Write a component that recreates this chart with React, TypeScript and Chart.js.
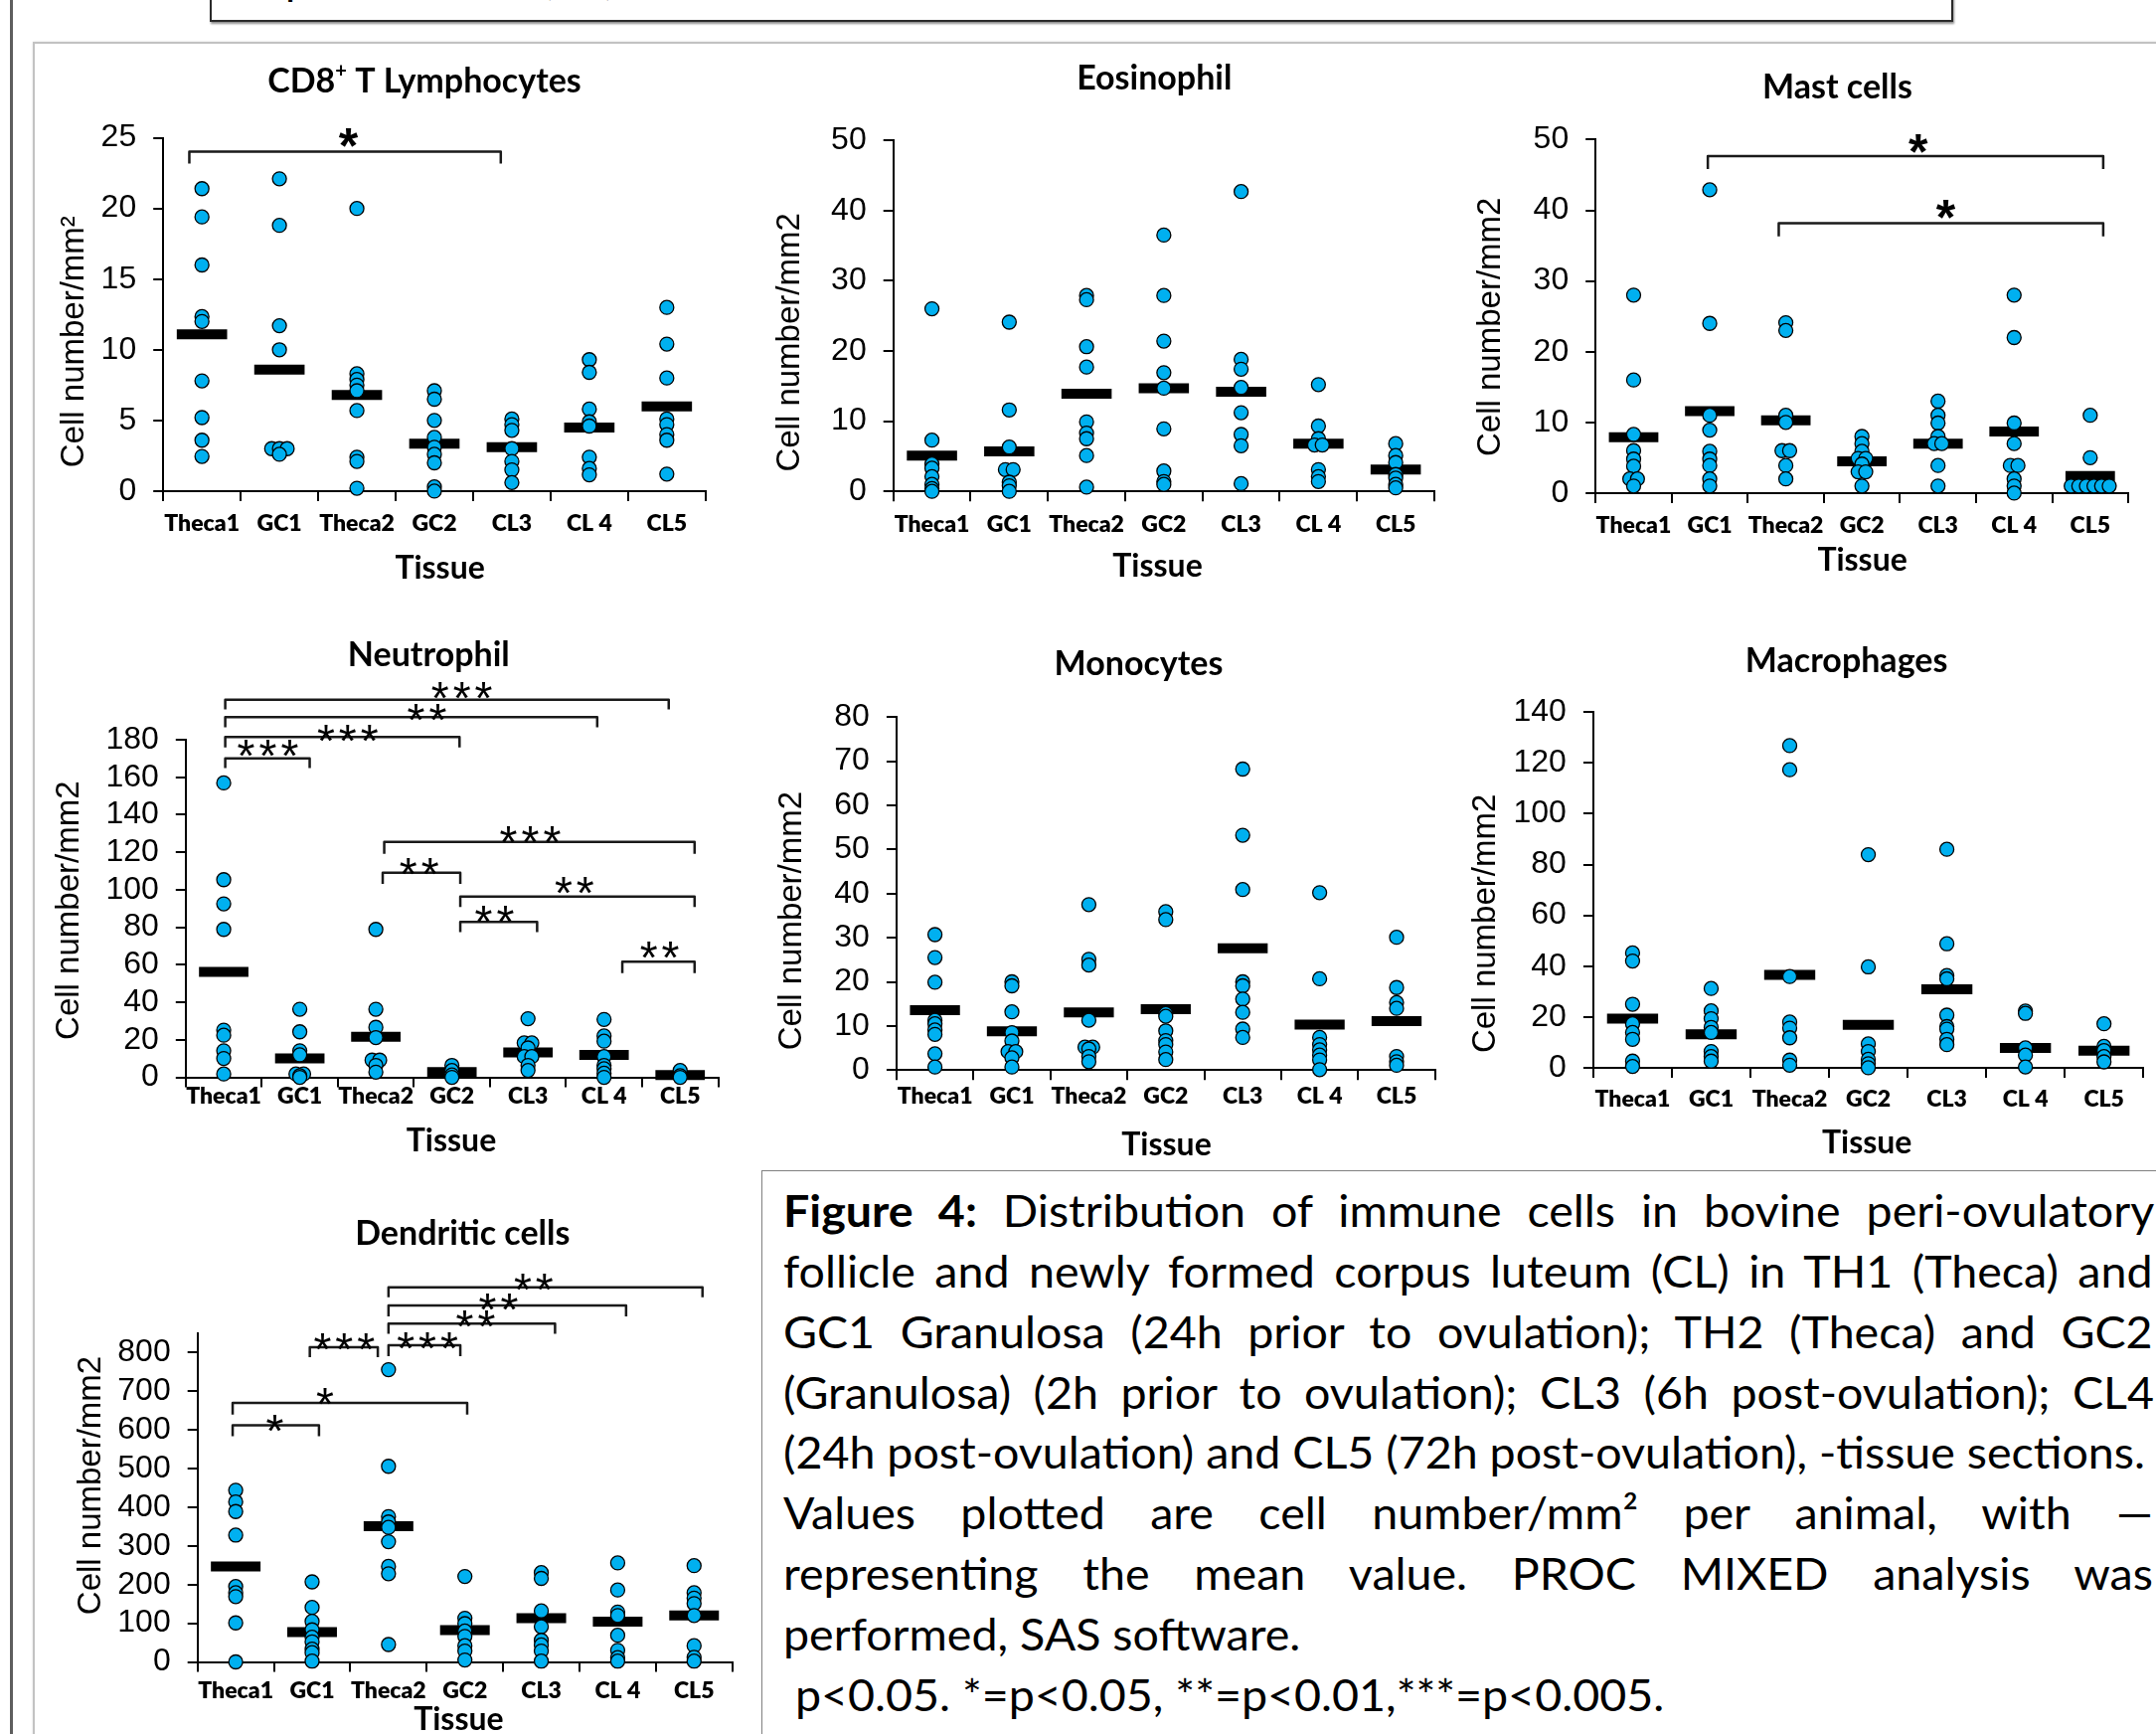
import React, { useEffect, useRef, useMemo } from 'react';
import { Chart, registerables } from 'chart.js';

Chart.register(...registerables);

// ---------------- DATA ----------------
const CATEGORIES = ['Theca1', 'GC1', 'Theca2', 'GC2', 'CL3', 'CL 4', 'CL5'];

// CD8+ T Lymphocytes
const CD8_VALUES = [
  [21.4, 19.4, 16.0, 12.35, 12.0, 7.8, 5.2, 3.6, 2.45],
  [22.1, 18.8, 11.7, 10.0, 3.0, 3.0, 3.0, 2.6],
  [20.0, 8.3, 7.9, 7.5, 7.1, 5.7, 2.4, 2.1, 0.2],
  [7.1, 6.5, 5.0, 3.8, 3.1, 2.6, 2.0, 0.3, 0.0],
  [5.1, 4.7, 4.3, 3.0, 2.1, 1.5, 0.6],
  [9.3, 8.4, 5.8, 4.9, 4.6, 2.4, 1.6, 1.15],
  [13.0, 10.4, 8.0, 5.1, 4.7, 4.0, 3.6, 1.2],
];
const CD8_MEANS = [11.1, 8.6, 6.8, 3.35, 3.1, 4.5, 6.0];
const CD8_BRACKETS = [
  { from: 0.337, to: 4.357, top: 24.02, end: 23.17, stars: '*', sx: 2.39, sy: 25.25, bold: true },
];

// Eosinophil
const EOS_VALUES = [
  [26.0, 7.3, 3.9, 3.3, 2.1, 1.0, 0.4, 0.0],
  [24.1, 11.6, 6.3, 3.1, 3.1, 1.3, 0.8, 0.0],
  [27.9, 27.3, 20.6, 17.7, 9.9, 8.3, 7.5, 5.1, 0.6],
  [36.5, 27.9, 21.4, 16.9, 14.7, 8.9, 2.9, 1.4, 1.0],
  [42.7, 18.8, 17.4, 14.8, 11.2, 8.1, 6.5, 1.1],
  [15.2, 9.3, 7.5, 6.6, 6.6, 3.1, 2.1, 1.4],
  [6.8, 5.1, 4.1, 2.4, 1.9, 1.0, 0.5],
];
const EOS_MEANS = [5.1, 5.7, 13.9, 14.7, 14.2, 6.8, 3.1];
const EOS_BRACKETS = [];

// Mast cells
const MAST_VALUES = [
  [28.0, 16.0, 8.3, 6.0, 4.8, 3.8, 2.0, 2.0, 1.0],
  [42.9, 24.0, 11.0, 8.9, 5.9, 4.8, 3.9, 2.0, 1.0],
  [24.1, 23.0, 11.0, 10.0, 6.0, 6.0, 3.9, 2.0],
  [8.0, 7.0, 5.9, 4.9, 4.9, 4.1, 3.0, 3.0, 1.0],
  [13.0, 11.0, 9.9, 8.0, 7.0, 7.0, 3.9, 1.0],
  [28.0, 22.0, 9.9, 7.0, 3.9, 3.9, 2.0, 1.0, 0.0],
  [11.0, 5.0, 1.0, 1.0, 1.0, 1.0, 1.0, 1.0],
];
const MAST_MEANS = [7.9, 11.6, 10.3, 4.5, 7.0, 8.7, 2.4];
const MAST_BRACKETS = [
  { from: 1.475, to: 6.671, top: 47.65, end: 45.85, stars: '*', sx: 4.24, sy: 49.9, bold: true },
  { from: 2.407, to: 6.671, top: 38.17, end: 36.31, stars: '*', sx: 4.6, sy: 40.6, bold: true },
];

// Neutrophil
const NEUT_VALUES = [
  [157, 105.4, 92.5, 78.9, 25.2, 22.5, 14.2, 10.1, 1.8],
  [36.3, 24.3, 14.2, 12.0, 1.8, 1.8, 0.9, 0],
  [78.9, 36.3, 26.7, 21.2, 9.2, 9.2, 6.4, 2.8],
  [6.4, 3.7, 1.3, 0],
  [31.3, 18.4, 18.4, 15.7, 11.1, 11.1, 6.4, 3.7],
  [30.9, 22.1, 19.3, 11.1, 6.4, 4.6, 2.2, 0],
  [3.7, 0.9, 0],
];
const NEUT_MEANS = [56.2, 10.1, 21.6, 2.8, 13.3, 12.0, 1.3];
const NEUT_BRACKETS = [
  { from: 0.52, to: 6.35, top: 201.4, end: 196.2, stars: '***', sx: 3.63, sy: 207.6 },
  { from: 0.52, to: 5.41, top: 192.0, end: 186.6, stars: '**', sx: 3.17, sy: 196.2 },
  { from: 0.52, to: 3.6, top: 181.5, end: 175.9, stars: '***', sx: 2.13, sy: 185.2 },
  { from: 0.52, to: 1.63, top: 170.0, end: 164.9, stars: '***', sx: 1.08, sy: 176.9 },
  { from: 2.61, to: 6.69, top: 125.6, end: 119.2, stars: '***', sx: 4.53, sy: 130.8 },
  { from: 2.59, to: 3.61, top: 109.1, end: 103.2, stars: '**', sx: 3.07, sy: 114.2 },
  { from: 3.61, to: 6.69, top: 96.4, end: 90.8, stars: '**', sx: 5.11, sy: 104.1 },
  { from: 3.61, to: 4.62, top: 82.9, end: 77.4, stars: '**', sx: 4.06, sy: 88.8 },
  { from: 5.74, to: 6.69, top: 61.7, end: 55.6, stars: '**', sx: 6.23, sy: 69.5 },
];

// Monocytes
const MONO_VALUES = [
  [30.7, 25.5, 19.9, 11.3, 10.5, 9.1, 8.1, 3.7, 0.7],
  [20.0, 19.1, 13.2, 8.5, 6.6, 4.2, 4.2, 2.8, 0.7],
  [37.5, 25.1, 23.8, 11.3, 5.2, 5.2, 4.8, 3.1, 1.9],
  [35.9, 34.1, 12.8, 12.2, 8.9, 6.7, 5.8, 4.1, 2.4],
  [68.2, 53.2, 40.9, 20.0, 19.1, 16.1, 13.1, 9.3, 7.4],
  [40.2, 20.7, 7.4, 5.8, 4.6, 3.4, 2.3, 0.1],
  [30.1, 18.7, 15.3, 14.0, 3.1, 1.9, 1.1],
];
const MONO_MEANS = [13.6, 8.8, 13.1, 13.8, 27.6, 10.3, 11.1];
const MONO_BRACKETS = [];

// Macrophages
const MACRO_VALUES = [
  [45.2, 42.0, 25.0, 17.3, 13.9, 11.2, 2.6, 0.5],
  [31.2, 22.4, 19.3, 15.9, 13.9, 6.4, 4.4, 2.6],
  [126.8, 117.3, 35.9, 18.0, 15.6, 11.8, 3.0, 1.0],
  [83.9, 39.7, 9.4, 6.4, 3.3, 1.6, 0],
  [86.0, 48.8, 36.3, 35.0, 20.7, 16.2, 15.2, 11.2, 9.1],
  [22.3, 21.4, 7.8, 5.0, 0.3],
  [17.3, 8.4, 6.8, 4.4, 2.3],
];
const MACRO_MEANS = [19.3, 13.2, 36.6, 16.9, 30.9, 7.8, 6.7];
const MACRO_BRACKETS = [];

// Dendritic cells
const DEND_VALUES = [
  [444, 414, 389, 328, 195, 179, 169, 101, 0],
  [207, 141, 105, 83, 64, 52, 33, 24, 2],
  [756, 506, 376, 362, 348, 311, 247, 228, 45],
  [221, 113, 99, 80, 66, 42, 28, 5],
  [231, 216, 132, 91, 56, 44, 28, 2],
  [256, 186, 129, 120, 69, 30, 11, 2],
  [249, 179, 165, 151, 120, 42, 12, 2],
];
const DEND_MEANS = [247, 77, 351, 82, 113, 104, 120];
const DEND_BRACKETS = [
  { from: 2.5, to: 6.61, top: 969, end: 943, stars: '**', sx: 4.4, sy: 990 },
  { from: 2.5, to: 5.61, top: 922, end: 894, stars: '**', sx: 3.94, sy: 938 },
  { from: 2.5, to: 4.68, top: 875, end: 849, stars: '**', sx: 3.64, sy: 894 },
  { from: 2.5, to: 3.44, top: 819, end: 791, stars: '***', sx: 3.01, sy: 838 },
  { from: 1.47, to: 2.36, top: 814, end: 788, stars: '***', sx: 1.92, sy: 836 },
  { from: 0.46, to: 3.53, top: 670, end: 640, stars: '*', sx: 1.67, sy: 694 },
  { from: 0.46, to: 1.59, top: 612, end: 584, stars: '*', sx: 1.01, sy: 626 },
];

const CAPTION_LINES = [
  { lead: 'Figure 4:', text: ' Distribution of immune cells in bovine peri-ovulatory', justify: true },
  { lead: '', text: 'follicle and newly formed corpus luteum (CL) in TH1 (Theca) and', justify: true },
  { lead: '', text: 'GC1 Granulosa (24h prior to ovulation); TH2 (Theca) and GC2', justify: true },
  { lead: '', text: '(Granulosa) (2h prior to ovulation); CL3 (6h post-ovulation); CL4', justify: true },
  { lead: '', text: '(24h post-ovulation) and CL5 (72h post-ovulation), -tissue sections.', justify: false },
  { lead: '', text: 'Values plotted are cell number/mm\u00B2 per animal, with \u2014', justify: true },
  { lead: '', text: 'representing the mean value. PROC MIXED analysis was', justify: true },
  { lead: '', text: 'performed, SAS software.', justify: false },
  { lead: '', text: ' p<0.05. *=p<0.05, **=p<0.01,***=p<0.005.', justify: false },
];

// ---------------- STYLE / LAYOUT ----------------
const FONT_CAL = 'Lato, "Open Sans", sans-serif';
const FONT_ARIAL = '"Liberation Sans", Arial, sans-serif';
const DOT_COLOR = '#00B0F0';

type Bracket = { from: number; to: number; top: number; end: number; stars: string; sx: number; sy: number; bold?: boolean };
type Seg = { text: string; sup?: boolean };
type PanelSpec = {
  key: string;
  title: Seg[];
  yTitle: string;
  values: number[][];
  means: number[];
  brackets: Bracket[];
  yMax: number;
  yStep: number;
  canvas: { x: number; y: number; w: number; h: number };
  area: { l: number; t: number; r: number; b: number };
  titlePos: [number, number];
  tissuePos: [number, number];
  yTitlePos: [number, number];
  labelY: number;
};

const PANELS: PanelSpec[] = [
  {
    key: 'cd8', title: [{ text: 'CD8' }, { text: '+', sup: true }, { text: ' T Lymphocytes' }], yTitle: 'Cell number/mm\u00B2',
    values: CD8_VALUES, means: CD8_MEANS, brackets: CD8_BRACKETS, yMax: 25, yStep: 5,
    canvas: { x: 36, y: 44, w: 709, h: 556 }, area: { l: 164.2, t: 138.6, r: 709.8, b: 493.9 },
    titlePos: [427, 82], tissuePos: [442.6, 571.4], yTitlePos: [75, 343.7], labelY: 526.2,
  },
  {
    key: 'eos', title: [{ text: 'Eosinophil' }], yTitle: 'Cell number/mm2',
    values: EOS_VALUES, means: EOS_MEANS, brackets: EOS_BRACKETS, yMax: 50, yStep: 10,
    canvas: { x: 745, y: 44, w: 707, h: 556 }, area: { l: 898.7, t: 141.1, r: 1443.0, b: 494.2 },
    titlePos: [1161.3, 79.5], tissuePos: [1164.5, 569.6], yTitlePos: [794.5, 344.4], labelY: 528,
  },
  {
    key: 'mast', title: [{ text: 'Mast cells' }], yTitle: 'Cell number/mm2',
    values: MAST_VALUES, means: MAST_MEANS, brackets: MAST_BRACKETS, yMax: 50, yStep: 10,
    canvas: { x: 1452, y: 44, w: 717, h: 556 }, area: { l: 1605.2, t: 140.4, r: 2141.1, b: 495.9 },
    titlePos: [1848.5, 88.2], tissuePos: [1873.6, 563.7], yTitlePos: [1500, 328.8], labelY: 529,
  },
  {
    key: 'neut', title: [{ text: 'Neutrophil' }], yTitle: 'Cell number/mm2',
    values: NEUT_VALUES, means: NEUT_MEANS, brackets: NEUT_BRACKETS, yMax: 180, yStep: 20,
    canvas: { x: 36, y: 604, w: 709, h: 573 }, area: { l: 186.8, t: 744.0, r: 722.5, b: 1083.6 },
    titlePos: [431.3, 659.5], tissuePos: [454, 1147.9], yTitlePos: [70.4, 915.7], labelY: 1102.7,
  },
  {
    key: 'mono', title: [{ text: 'Monocytes' }], yTitle: 'Cell number/mm2',
    values: MONO_VALUES, means: MONO_MEANS, brackets: MONO_BRACKETS, yMax: 80, yStep: 10,
    canvas: { x: 745, y: 604, w: 707, h: 573 }, area: { l: 901.9, t: 721.1, r: 1447.5, b: 1076.3 },
    titlePos: [1145.5, 668.2], tissuePos: [1173.5, 1151.4], yTitlePos: [796.8, 926.1], labelY: 1102.7,
  },
  {
    key: 'macro', title: [{ text: 'Macrophages' }], yTitle: 'Cell number/mm2',
    values: MACRO_VALUES, means: MACRO_MEANS, brackets: MACRO_BRACKETS, yMax: 140, yStep: 20,
    canvas: { x: 1452, y: 604, w: 717, h: 573 }, area: { l: 1602.9, t: 716.2, r: 2156.2, b: 1073.9 },
    titlePos: [1857.6, 664.8], tissuePos: [1878.2, 1149.6], yTitlePos: [1495.4, 928.9], labelY: 1105.5,
  },
  {
    key: 'dend', title: [{ text: 'Dendritic cells' }], yTitle: 'Cell number/mm2',
    values: DEND_VALUES, means: DEND_MEANS, brackets: DEND_BRACKETS, yMax: 850, yStep: 100,
    canvas: { x: 36, y: 1180, w: 728, h: 564 }, area: { l: 198.7, t: 1341.0, r: 736.7, b: 1671.5 },
    titlePos: [465.3, 1241.4], tissuePos: [461.4, 1730.1], yTitlePos: [92.1, 1494], labelY: 1700.8,
  },
];

function toPoints(values: number[][]) {
  const pts: { x: number; y: number }[] = [];
  values.forEach((vals, ci) => {
    const counts = new Map<number, number>();
    vals.forEach((v) => counts.set(v, (counts.get(v) || 0) + 1));
    const seen = new Map<number, number>();
    vals.forEach((v) => {
      const n = counts.get(v) || 1;
      const k = seen.get(v) || 0;
      seen.set(v, k + 1);
      pts.push({ x: ci + 0.5 + (k - (n - 1) / 2) * 0.1, y: v });
    });
  });
  return pts;
}

function drawSegments(ctx: CanvasRenderingContext2D, segs: Seg[], cx: number, cy: number, size: number) {
  const fontFor = (s: Seg) => `bold ${s.sup ? Math.round(size * 0.6) : size}px ${FONT_CAL}`;
  let total = 0;
  const widths = segs.map((s) => {
    ctx.font = fontFor(s);
    const w = ctx.measureText(s.text).width;
    total += w;
    return w;
  });
  let x = cx - total / 2;
  ctx.textAlign = 'left';
  ctx.textBaseline = 'middle';
  segs.forEach((s, i) => {
    ctx.font = fontFor(s);
    ctx.fillText(s.text, x, s.sup ? cy - size * 0.3 : cy);
    x += widths[i];
  });
}

function ChartPanel({ spec }: { spec: PanelSpec }) {
  const ref = useRef<HTMLCanvasElement>(null);
  useEffect(() => {
    const cv = spec.canvas;
    const area = spec.area;
    const xH = cv.y + cv.h - area.b;
    const yW = area.l - cv.x;
    const labelSize = 23;
    const tickLen = 10;
    const xPad = spec.labelY - area.b - tickLen - (labelSize * 1.2) / 2;

    const overlay = {
      id: 'overlay' + spec.key,
      afterDraw(chart: any) {
        const ctx: CanvasRenderingContext2D = chart.ctx;
        const xs = chart.scales.x;
        const ys = chart.scales.y;
        const px = (v: number) => v - cv.x;
        const py = (v: number) => v - cv.y;
        ctx.save();
        ctx.fillStyle = '#000';
        drawSegments(ctx, spec.title, px(spec.titlePos[0]), py(spec.titlePos[1]), 34);

        ctx.font = `bold 32px ${FONT_CAL}`;
        ctx.textAlign = 'center';
        ctx.textBaseline = 'middle';
        ctx.fillText('Tissue', px(spec.tissuePos[0]), py(spec.tissuePos[1]));

        ctx.save();
        ctx.translate(px(spec.yTitlePos[0]), py(spec.yTitlePos[1]));
        ctx.rotate(-Math.PI / 2);
        ctx.font = `33px ${FONT_ARIAL}`;
        ctx.textAlign = 'center';
        ctx.textBaseline = 'middle';
        ctx.fillText(spec.yTitle, 0, 0);
        ctx.restore();

        ctx.strokeStyle = '#1a1a1a';
        ctx.lineWidth = 2.5;
        ctx.lineJoin = 'round';
        spec.brackets.forEach((b) => {
          const x0 = xs.getPixelForValue(b.from);
          const x1 = xs.getPixelForValue(b.to);
          const yt = ys.getPixelForValue(b.top);
          const ye = ys.getPixelForValue(b.end);
          ctx.beginPath();
          ctx.moveTo(x0, ye);
          ctx.lineTo(x0, yt);
          ctx.lineTo(x1, yt);
          ctx.lineTo(x1, ye);
          ctx.stroke();
          const fs = b.bold ? 50 : 46;
          ctx.font = `${b.bold ? 'bold ' : ''}${fs}px ${FONT_ARIAL}`;
          (ctx as any).letterSpacing = '4px';
          ctx.textAlign = 'center';
          ctx.textBaseline = 'alphabetic';
          ctx.fillText(b.stars, xs.getPixelForValue(b.sx) + 2, ys.getPixelForValue(b.sy) + fs * 0.575);
          (ctx as any).letterSpacing = '0px';
        });
        ctx.restore();
      },
    };

    const chart = new Chart(ref.current as HTMLCanvasElement, {
      type: 'scatter',
      data: {
        datasets: [
          {
            data: toPoints(spec.values),
            order: 0,
            pointRadius: 7,
            pointBackgroundColor: DOT_COLOR,
            pointBorderColor: '#000',
            pointBorderWidth: 1.3,
            clip: false,
          } as any,
          {
            data: spec.means.map((m, i) => ({ x: i + 0.5, y: m })),
            order: 1,
            pointStyle: 'line',
            pointRadius: (c: any) => {
              const s = c.chart.scales.x;
              return Math.abs(s.getPixelForValue(0.65) - s.getPixelForValue(0)) / 2;
            },
            pointBorderColor: '#000',
            pointBorderWidth: 10,
            clip: false,
          } as any,
        ],
      },
      options: {
        responsive: false,
        animation: false,
        events: [],
        layout: { padding: { top: area.t - cv.y, right: cv.x + cv.w - area.r, left: 0, bottom: 0 } },
        plugins: { legend: { display: false }, tooltip: { enabled: false }, title: { display: false } },
        scales: {
          x: {
            type: 'linear',
            min: 0,
            max: 7,
            afterBuildTicks: (s: any) => {
              s.ticks = CATEGORIES.map((_, i) => ({ value: i + 0.5 }));
            },
            afterFit: (s: any) => {
              s.height = xH;
            },
            ticks: {
              callback: (v: any) => CATEGORIES[Math.floor(Number(v))],
              font: { family: FONT_CAL, size: labelSize, weight: '800' },
              color: '#000',
              padding: xPad,
              autoSkip: false,
              maxRotation: 0,
              minRotation: 0,
            },
            grid: { offset: true, drawOnChartArea: false, drawTicks: true, tickLength: tickLen, color: '#000', lineWidth: 2 },
            border: { display: true, color: '#000', width: 2 },
          },
          y: {
            type: 'linear',
            min: 0,
            max: spec.yMax,
            afterFit: (s: any) => {
              s.width = yW;
            },
            ticks: {
              stepSize: spec.yStep,
              includeBounds: false,
              font: { family: FONT_ARIAL, size: 32 },
              color: '#000',
              padding: 17,
              autoSkip: false,
            },
            grid: { drawOnChartArea: false, drawTicks: true, tickLength: tickLen, color: '#000', lineWidth: 2 },
            border: { display: true, color: '#000', width: 2 },
          },
        },
      } as any,
      plugins: [overlay],
    });
    return () => chart.destroy();
  }, [spec]);
  return (
    <canvas
      ref={ref}
      width={spec.canvas.w}
      height={spec.canvas.h}
      style={{ position: 'absolute', left: spec.canvas.x, top: spec.canvas.y }}
    />
  );
}

const CAP_SIZE = 44;
const CAP_LEFT = 788;
const CAP_FIRST_BASELINE = 1234.3;
const CAP_LINE_GAP = 60.9;
const CAP_JUSTIFY_WIDTH = 1380;
const CAP_NATURAL_WIDTH = 1370;

function useCaptionLayout() {
  return useMemo(() => {
    const c = document.createElement('canvas').getContext('2d') as CanvasRenderingContext2D;
    const measure = (t: string, bold: boolean) => {
      c.font = `${bold ? 'bold ' : ''}${CAP_SIZE}px ${FONT_CAL}`;
      return c.measureText(t).width;
    };
    const ref = CAPTION_LINES[4];
    const f = CAP_NATURAL_WIDTH / (measure(ref.lead, true) + measure(ref.text, false));
    return CAPTION_LINES.map((ln) => {
      const natural = measure(ln.lead, true) + measure(ln.text, false);
      const spaces = (ln.lead + ln.text).trim().split(' ').length - 1;
      const ws = ln.justify && spaces > 0 ? (CAP_JUSTIFY_WIDTH / f - natural) / spaces : 0;
      return { ...ln, f, ws };
    });
  }, []);
}

export default function App() {
  const caption = useCaptionLayout();
  const baselineInBox = 43.5;
  return (
    <div
      style={{
        position: 'absolute',
        left: 0,
        top: 0,
        width: 2169,
        height: 1744,
        overflow: 'hidden',
        background: '#fff',
      }}
    >
      {/* outer page line */}
      <div style={{ position: 'absolute', left: 10, top: 0, width: 3, height: 1744, background: '#5e5e5e' }} />
      {/* top box */}
      <div
        style={{
          position: 'absolute',
          left: 211,
          top: -30,
          width: 1750,
          height: 48,
          border: '2px solid #2a2a2a',
          boxShadow: '1px 2px 2px rgba(0,0,0,0.45)',
        }}
      />
      <div style={{ position: 'absolute', left: 214, top: 0, width: 1745, height: 19, overflow: 'hidden' }}>
        <span
          style={{
            position: 'absolute',
            left: 73,
            top: -6 - baselineInBox,
            font: `${CAP_SIZE}px ${FONT_CAL}`,
            lineHeight: '53px',
            whiteSpace: 'pre',
          }}
        >
          p
        </span>
        <span
          style={{
            position: 'absolute',
            left: 331,
            top: -6 - baselineInBox,
            font: `${CAP_SIZE}px ${FONT_CAL}`,
            lineHeight: '53px',
            whiteSpace: 'pre',
          }}
        >
          (CL)
        </span>
      </div>
      {/* main panel border */}
      <div
        style={{
          position: 'absolute',
          left: 33,
          top: 42,
          width: 2300,
          height: 1800,
          border: '2px solid #c2c2c2',
          boxShadow: '0 0 2px rgba(0,0,0,0.12)',
        }}
      />
      {PANELS.map((p) => (
        <ChartPanel key={p.key} spec={p} />
      ))}
      {/* caption box */}
      <div
        style={{
          position: 'absolute',
          left: 766,
          top: 1177,
          width: 1500,
          height: 700,
          border: '1.5px solid #808080',
        }}
      />
      {caption.map((ln, i) => (
        <div
          key={i}
          style={{
            position: 'absolute',
            left: CAP_LEFT,
            top: CAP_FIRST_BASELINE + i * CAP_LINE_GAP - baselineInBox,
            font: `${CAP_SIZE}px ${FONT_CAL}`,
            lineHeight: '53px',
            whiteSpace: 'pre',
            wordSpacing: `${ln.ws}px`,
            transform: `scaleX(${ln.f})`,
            transformOrigin: 'left top',
            color: '#000',
          }}
        >
          {ln.lead ? <b>{ln.lead}</b> : null}
          {ln.text}
        </div>
      ))}
    </div>
  );
}
